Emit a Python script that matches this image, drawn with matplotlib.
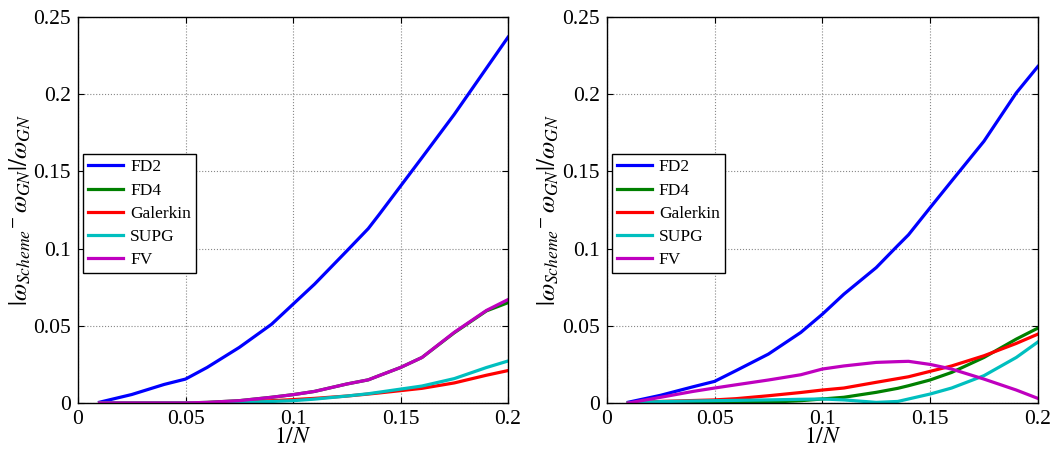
import matplotlib
matplotlib.use("Agg")
import matplotlib.pyplot as plt

plt.rcParams['font.family'] = ['Liberation Serif', 'DejaVu Serif']
plt.rcParams['mathtext.fontset'] = 'stix'

x = [0.01, 0.025, 0.04, 0.05, 0.06, 0.075, 0.09, 0.1, 0.11, 0.125, 0.135, 0.14, 0.15, 0.16, 0.175, 0.19, 0.2]

# left panel
fd2_l = [0.0005, 0.0055, 0.012, 0.0155, 0.023, 0.036, 0.051, 0.064, 0.077, 0.0985, 0.113, 0.122, 0.1405, 0.159, 0.187, 0.217, 0.237]
fd4_l = [0, 0, 0, 0, 0.0004, 0.0015, 0.0037, 0.0054, 0.0075, 0.0123, 0.015, 0.0177, 0.023, 0.0295, 0.0455, 0.0597, 0.065]
gal_l = [0, 0, 0, 0, 0, 0.0005, 0.0015, 0.0022, 0.003, 0.0045, 0.0058, 0.0065, 0.008, 0.0095, 0.013, 0.018, 0.021]
supg_l = [0, 0, 0, 0, 0, 0.0003, 0.001, 0.0015, 0.0025, 0.0045, 0.006, 0.007, 0.009, 0.011, 0.0158, 0.023, 0.0272]
fv_l = [0, 0, 0, 0, 0.0004, 0.0015, 0.0037, 0.0054, 0.0075, 0.0123, 0.015, 0.0177, 0.023, 0.0295, 0.0458, 0.0600, 0.067]

# right panel
fd2_r = [0.0005, 0.005, 0.0105, 0.014, 0.021, 0.0317, 0.0457, 0.0575, 0.0705, 0.0877, 0.102, 0.109, 0.1265, 0.1438, 0.1696, 0.2009, 0.218]
fd4_r = [0, 0, 0, 0.0002, 0.0002, 0.0005, 0.0015, 0.0026, 0.0037, 0.0069, 0.0095, 0.0112, 0.0149, 0.0198, 0.0295, 0.0414, 0.0485]
gal_r = [0, 0.001, 0.0016, 0.002, 0.0028, 0.0047, 0.0068, 0.0084, 0.0097, 0.0134, 0.0158, 0.017, 0.0205, 0.024, 0.0306, 0.0386, 0.0446]
supg_r = [0, 0.0009, 0.0013, 0.0015, 0.0017, 0.002, 0.0024, 0.0026, 0.002, 0.0004, 0.001, 0.0026, 0.0058, 0.0097, 0.0177, 0.0295, 0.0395]
fv_r = [0, 0.0037, 0.0075, 0.0097, 0.0118, 0.0149, 0.0183, 0.022, 0.024, 0.0263, 0.0268, 0.027, 0.025, 0.022, 0.0155, 0.0084, 0.003]

names = ['FD2', 'FD4', 'Galerkin', 'SUPG', 'FV']
colors = ['#0000ff', '#008000', '#ff0000', '#00bfbf', '#bf00bf']
xticks = [0, 0.05, 0.1, 0.15, 0.2]
yticks = [0, 0.05, 0.1, 0.15, 0.2, 0.25]

fig = plt.figure(figsize=(10.59, 4.55), dpi=100)
ax1 = fig.add_axes([0.0737, 0.1143, 0.406, 0.848])
ax2 = fig.add_axes([0.573, 0.1143, 0.407, 0.848])

for ax, series in [(ax1, [fd2_l, fd4_l, gal_l, supg_l, fv_l]),
                   (ax2, [fd2_r, fd4_r, gal_r, supg_r, fv_r])]:
    for y, name, c in zip(series, names, colors):
        ax.plot(x, y, color=c, lw=2.3, label=name)
    ax.set_xlim(0, 0.2)
    ax.set_ylim(0, 0.25)
    ax.set_xticks(xticks)
    ax.set_xticklabels(['0', '0.05', '0.1', '0.15', '0.2'])
    ax.set_yticks(yticks)
    ax.set_yticklabels(['0', '0.05', '0.1', '0.15', '0.2', '0.25'])
    ax.tick_params(direction='in', top=True, right=True, labelsize=15.5, length=4, pad=5)
    ax.grid(True, ls=':', color='#888888', lw=0.8)
    ax.set_xlabel(r'$1/N$', fontsize=17, va='center')
    ax.xaxis.set_label_coords(0.5, -0.09)
    ax.set_ylabel(r'$|\omega_{Scheme}{}^{-}\,\omega_{GN}|/\omega_{GN}$', fontsize=18, va='center')
    ax.yaxis.set_label_coords(-0.135, 0.5)
    for s in ax.spines.values():
        s.set_linewidth(1.0)
    leg = ax.legend(loc='upper left', bbox_to_anchor=(0.012, 0.645), fontsize=12.5,
                    fancybox=False, framealpha=1, edgecolor='black', borderaxespad=0,
                    handlelength=2.0, borderpad=0.3, labelspacing=0.4, handletextpad=0.4)
    leg.get_frame().set_linewidth(1.0)

fig.savefig('out.png', dpi=100)
